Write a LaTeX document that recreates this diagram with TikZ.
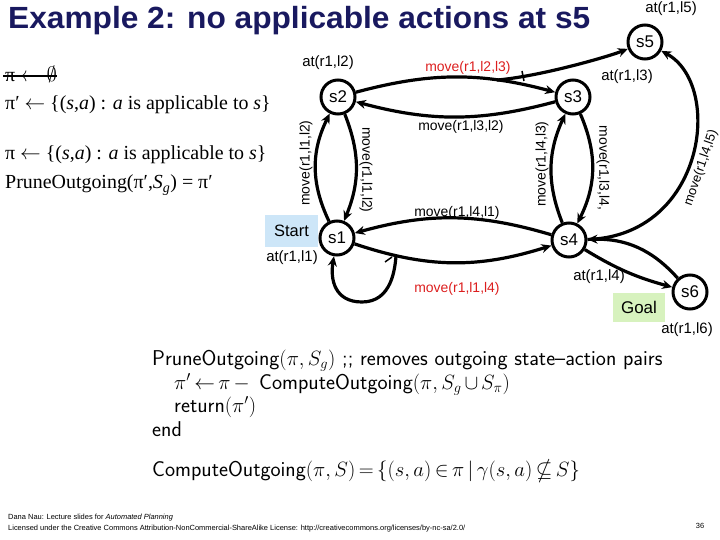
\documentclass[tikz,border=0pt]{standalone}
\usepackage{amssymb}
\usepackage{graphicx}
\usepackage{fontspec}
\setmainfont{Liberation Sans}
\newfontfamily\tms{Liberation Serif}
\usetikzlibrary{arrows.meta}
\definecolor{navy}{RGB}{25,25,95}
\definecolor{lblred}{RGB}{220,30,30}
\definecolor{startbg}{RGB}{205,230,248}
\definecolor{goalbg}{RGB}{215,242,190}
\newcommand{\tightmath}{\thickmuskip=3mu\relax\medmuskip=2.5mu\relax}
\begin{document}
\begin{tikzpicture}[x=1bp,y=-1bp,
  state/.style={circle,draw,fill=white,line width=3bp,minimum size=34bp,inner sep=0pt,font=\fontsize{17}{17}\selectfont},
  edge/.style={line width=3.2bp,-{Stealth[length=10bp,width=9bp]}},
  lab/.style={font=\fontsize{14}{14}\selectfont,inner sep=0pt},
  atlab/.style={font=\fontsize{15}{15}\selectfont,inner sep=0pt},
  redlab/.style={lab,text=lblred},
  tline/.style={anchor=base west,inner sep=0pt,font=\tms\fontsize{20}{20}\selectfont},
  aline/.style={anchor=base west,inner sep=0pt,font={\sffamily\fontsize{21.5}{21.5}\selectfont\tightmath}},
  foot/.style={anchor=base west,inner sep=0pt,font=\fontsize{7.5}{7.5}\selectfont},
  tick/.style={line width=1.5bp},
]
\useasboundingbox (0,0) rectangle (720,540);

% title
\node[anchor=base west,inner sep=0pt,font=\bfseries\fontsize{31}{31}\selectfont,text=navy] (title) at (8,29) {\resizebox{582bp}{22.2bp}{Example 2: no applicable actions at s5}};

% left texts
\node[tline] (t0) at (5,82) {π $\leftarrow\emptyset$};
\draw[line width=1.8bp] (3,76) -- (t0.east |- 0,76);
\node[tline] (t1) at (5,110) {π′ $\leftarrow$ \{(\textit{s},\textit{a}) : \textit{a} is applicable to \textit{s}\}};
\node[tline] (t2) at (5,160) {π $\leftarrow$ \{(\textit{s},\textit{a}) : \textit{a} is applicable to \textit{s}\}};
\node[tline] (t3) at (5,189) {PruneOutgoing(π′,\textit{S}\textsubscript{\textit{g}}) = π′};

% states
\node[state] (s1) at (337,238) {s1};
\node[state] (s2) at (338,97) {s2};
\node[state] (s3) at (573,97) {s3};
\node[state] (s4) at (569,240) {s4};
\node[state] (s5) at (645,42) {s5};
\node[state] (s6) at (690,292) {s6};

\node[fill=startbg,minimum width=53bp,minimum height=32bp,inner sep=0pt,font=\fontsize{16.5}{16.5}\selectfont] (start) at (291.5,231) {Start};
\node[fill=goalbg,minimum width=52bp,minimum height=29bp,inner sep=0pt,font=\fontsize{17}{17}\selectfont] (goal) at (639,307.5) {Goal};

% state labels
\node[atlab] (a2) at (328,63) {at(r1,l2)};
\node[atlab] (a3) at (627,77) {at(r1,l3)};
\node[atlab] (a5) at (671,9) {at(r1,l5)};
\node[atlab] (a1) at (292,258) {at(r1,l1)};
\node[atlab] (a6) at (687,330) {at(r1,l6)};

% edges
\draw[edge] (s2) to[bend left=15] coordinate[pos=0.72] (b1) (s3);
\draw[edge] (b1) .. controls +(45,-4) and +(-35,14) .. (s5);
\draw[tick] (522,71) -- (524,81);
\draw[edge] (s3) to[bend left=15] (s2);
\draw[edge] (s2) to[bend left=22] (s1);
\draw[edge] (s1) to[bend left=26] (s2);
\draw[edge] (s3) to[bend left=25] (s4);
\draw[edge] (s4) to[bend left=23] (s3);
\draw[edge] (s4) to[bend right=16] (s1);
\draw[edge] (s1) to[bend right=18] coordinate[pos=0.2] (b2) (s4);
\draw[edge] (b2) .. controls (395,268) and (392,302) .. (362,302) .. controls (335,302) and (330,280) .. (s1);
\draw[tick] (385,262) -- (392,257);
\draw[edge] (s4) .. controls (705,236) and (724,85) .. (s5);
\draw[edge] (s4) to[bend right=8] (s6);
\draw[edge] (s6) to[bend right=25] (s4);

\node[atlab] (a4) at (599,277) {at(r1,l4)};

% edge labels
\node[redlab] (m23) at (468,68) {move(r1,l2,l3)};
\node[lab] (m32) at (461,127) {move(r1,l3,l2)};
\node[lab,rotate=90] (m12a) at (306,163) {move(r1,l1,l2)};
\node[lab,rotate=-90] (m12b) at (366,170) {move(r1,l1,l2)};
\node[lab,rotate=90] (m43) at (542,164) {move(r1,l4,l3)};
\node[lab,rotate=-90] (m34) at (603,168) {move(r1,l3,l4,};
\node[lab,font=\fontsize{13}{13}\selectfont,rotate=71] (m45) at (701,168) {move(r1,l4,l5)};
\node[lab] (m41) at (457,213) {move(r1,l4,l1)};
\node[redlab] (m14) at (457,289) {move(r1,l1,l4)};

% algorithm
\node[aline] (p1) at (152,365) {PruneOutgoing$(\pi,S_g)$ ;; removes outgoing state--action pairs};
\node[aline] (p2) at (174,389) {$\pi' \leftarrow \pi -{}$ ComputeOutgoing$(\pi, S_g\cup S_\pi)$};
\node[aline] (p3) at (174,412) {return$(\pi')$};
\node[aline] (p4) at (152,436) {end};
\node[aline] (p5) at (152,476) {ComputeOutgoing$(\pi, S) = \{(s,a)\in\pi \mid \gamma(s,a)\nsubseteq S\}$};

% footer
\node[foot] (f1) at (8,519) {Dana Nau: Lecture slides for \textit{Automated Planning}};
\node[foot] (f2) at (8,530) {Licensed under the Creative Commons Attribution-NonCommercial-ShareAlike License: http://creativecommons.org/licenses/by-nc-sa/2.0/};
\node[inner sep=0pt,font=\fontsize{7.5}{7.5}\selectfont] (pg) at (700,526) {36};
\end{tikzpicture}
\end{document}
